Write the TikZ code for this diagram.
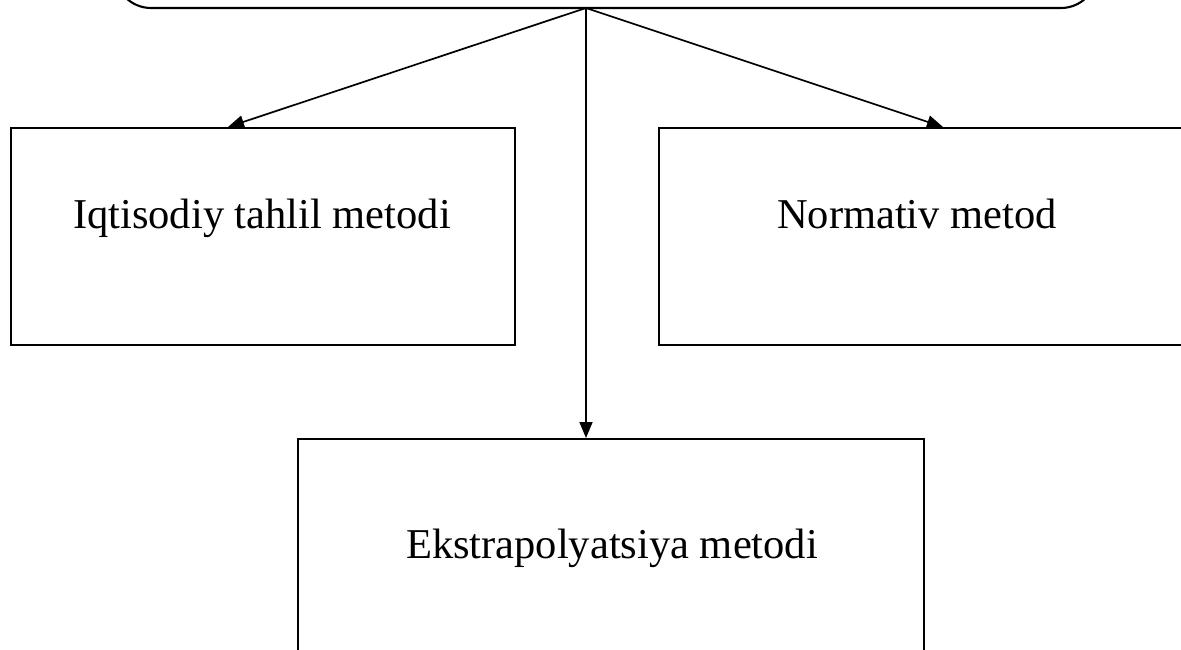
\documentclass[tikz,border=0pt]{standalone}
\usepackage{fontspec}
\setmainfont{Liberation Serif}
\usetikzlibrary{arrows.meta}
\begin{document}
\begin{tikzpicture}[x=1pt,y=-1pt,
  boxline/.style={draw=black,line width=2.1pt},
  lbl/.style={font=\fontsize{42.5}{50}\selectfont,inner sep=0pt,anchor=base},
  conn/.style={draw=black,line width=1.7pt,-{Triangle[length=16pt,width=13pt]}}]
\useasboundingbox (0,0) rectangle (1181,650);
\clip (0,0) rectangle (1181,650);
\draw[boxline,rounded corners=36pt] (115,-60) rectangle (1097,8);
\coordinate (hub) at (586,8);
\node[boxline,rectangle,minimum width=504pt,minimum height=217pt,anchor=north west] (left) at (10,127) {};
\node[boxline,rectangle,minimum width=530pt,minimum height=217pt,anchor=north west] (right) at (658,127) {};
\node[boxline,rectangle,minimum width=626pt,minimum height=260pt,anchor=north west] (bottom) at (297,438) {};
\node[lbl] (lefttext) at (262,228) {Iqtisodiy tahlil metodi};
\node[lbl] (righttext) at (917,228) {Normativ metod};
\node[lbl] (bottomtext) at (612,558) {Ekstrapolyatsiya metodi};
\coordinate (ltip) at (228,127);
\coordinate (rtip) at (943,127);
\draw[conn] (hub) -- (ltip);
\draw[conn] (hub) -- (rtip);
\draw[conn] (hub) -- (hub |- bottom.north);
\end{tikzpicture}
\end{document}
